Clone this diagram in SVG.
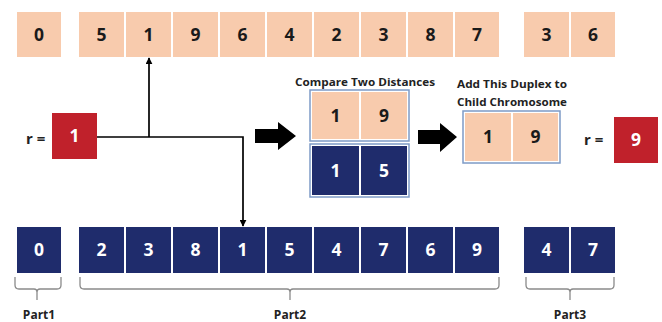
<svg xmlns="http://www.w3.org/2000/svg" width="662" height="322" viewBox="0 0 662 322">
  <defs>
    <style>
      .peach { fill: #F8CBAD; }
      .navy { fill: #1F2C6C; }
      .red { fill: #C0212B; }
      .num { font-family: "Open Sans", "Liberation Sans", sans-serif; font-weight: bold; font-size: 17.5px; text-anchor: middle; }
      .dark { fill: #1a1a1a; }
      .light { fill: #ffffff; }
      .lbl { font-family: "Open Sans", "Liberation Sans", sans-serif; font-weight: bold; font-size: 11px; fill: #222; }
      .part { font-family: "Open Sans", "Liberation Sans", sans-serif; font-weight: bold; font-size: 12px; fill: #222; text-anchor: middle; }
      .req { font-family: "Open Sans", "Liberation Sans", sans-serif; font-weight: bold; font-size: 15px; fill: #222; }
      .frame { fill: #ffffff; stroke: #7E9BC6; stroke-width: 1.5; }
      .wire { fill: none; stroke: #000; stroke-width: 1.7; }
      .brace { fill: none; stroke: #8a8a8a; stroke-width: 1.3; }
      .block { fill: #000; }
    </style>
    <marker id="tip" viewBox="0 0 10 10" refX="9" refY="5" markerWidth="7" markerHeight="7" orient="auto-start-reverse" markerUnits="userSpaceOnUse">
      <path d="M0,0 L10,5 L0,10 z" fill="#000"/>
    </marker>
  </defs>

  <!-- parent chromosome (top row) -->
  <g id="top-0"><rect class="peach" x="17" y="12" width="44" height="45"/><text class="num dark" x="39" y="41">0</text></g>
  <g id="top-5"><rect class="peach" x="79" y="12" width="45" height="45"/><text class="num dark" x="101.5" y="41">5</text></g>
  <g id="top-1"><rect class="peach" x="126" y="12" width="45" height="45"/><text class="num dark" x="148.5" y="41">1</text></g>
  <g id="top-9"><rect class="peach" x="173" y="12" width="45" height="45"/><text class="num dark" x="195.5" y="41">9</text></g>
  <g id="top-6"><rect class="peach" x="220" y="12" width="45" height="45"/><text class="num dark" x="242.5" y="41">6</text></g>
  <g id="top-4"><rect class="peach" x="267" y="12" width="45" height="45"/><text class="num dark" x="289.5" y="41">4</text></g>
  <g id="top-2"><rect class="peach" x="314" y="12" width="45" height="45"/><text class="num dark" x="336.5" y="41">2</text></g>
  <g id="top-3"><rect class="peach" x="361" y="12" width="45" height="45"/><text class="num dark" x="383.5" y="41">3</text></g>
  <g id="top-8"><rect class="peach" x="408" y="12" width="45" height="45"/><text class="num dark" x="430.5" y="41">8</text></g>
  <g id="top-7"><rect class="peach" x="455" y="12" width="44" height="45"/><text class="num dark" x="477" y="41">7</text></g>
  <g id="top-3b"><rect class="peach" x="524" y="12" width="45" height="45"/><text class="num dark" x="546.5" y="41">3</text></g>
  <g id="top-6b"><rect class="peach" x="571" y="12" width="44" height="45"/><text class="num dark" x="593" y="41">6</text></g>

  <!-- second parent (bottom row) -->
  <g id="bot-0"><rect class="navy" x="17" y="227" width="44" height="46"/><text class="num light" x="39" y="256">0</text></g>
  <g id="bot-2"><rect class="navy" x="79" y="227" width="45" height="46"/><text class="num light" x="101.5" y="256">2</text></g>
  <g id="bot-3"><rect class="navy" x="126" y="227" width="45" height="46"/><text class="num light" x="148.5" y="256">3</text></g>
  <g id="bot-8"><rect class="navy" x="173" y="227" width="45" height="46"/><text class="num light" x="195.5" y="256">8</text></g>
  <g id="bot-1"><rect class="navy" x="220" y="227" width="45" height="46"/><text class="num light" x="242.5" y="256">1</text></g>
  <g id="bot-5"><rect class="navy" x="267" y="227" width="45" height="46"/><text class="num light" x="289.5" y="256">5</text></g>
  <g id="bot-4"><rect class="navy" x="314" y="227" width="45" height="46"/><text class="num light" x="336.5" y="256">4</text></g>
  <g id="bot-7"><rect class="navy" x="361" y="227" width="45" height="46"/><text class="num light" x="383.5" y="256">7</text></g>
  <g id="bot-6"><rect class="navy" x="408" y="227" width="45" height="46"/><text class="num light" x="430.5" y="256">6</text></g>
  <g id="bot-9"><rect class="navy" x="455" y="227" width="44" height="46"/><text class="num light" x="477" y="256">9</text></g>
  <g id="bot-4b"><rect class="navy" x="524" y="227" width="45" height="46"/><text class="num light" x="546.5" y="256">4</text></g>
  <g id="bot-7b"><rect class="navy" x="571" y="227" width="44" height="46"/><text class="num light" x="593" y="256">7</text></g>

  <!-- part braces -->
  <g id="part1">
    <path class="brace" d="M15,277 V285 Q15,289 19,289 H34 Q37,289 37,292 V300 M37,292 Q37,289 40,289 H57 Q61,289 61,285 V277"/>
    <text class="part" x="39" y="319">Part1</text>
  </g>
  <g id="part2">
    <path class="brace" d="M80,277 V285 Q80,289 84,289 H287 Q290,289 290,292 V300 M290,292 Q290,289 293,289 H495 Q499,289 499,285 V277"/>
    <text class="part" x="290" y="319">Part2</text>
  </g>
  <g id="part3">
    <path class="brace" d="M526,277 V285 Q526,289 530,289 H567 Q570,289 570,292 V300 M570,292 Q570,289 573,289 H610 Q614,289 614,285 V277"/>
    <text class="part" x="570" y="319">Part3</text>
  </g>

  <!-- current gene r = 1 -->
  <g id="r-start">
    <text class="req" x="26" y="144">r =</text>
    <rect class="red" x="52" y="113" width="45" height="46"/>
    <text class="num light" x="74.5" y="142">1</text>
  </g>

  <!-- compared duplexes -->
  <g id="compare">
    <text class="lbl" x="295" y="86" textLength="140" lengthAdjust="spacingAndGlyphs">Compare Two Distances</text>
    <rect class="frame" x="310" y="90" width="99" height="51"/>
    <rect class="peach" x="312" y="92" width="47" height="47"/>
    <rect class="peach" x="361" y="92" width="46" height="47"/>
    <text class="num dark" x="335.5" y="122">1</text>
    <text class="num dark" x="384" y="122">9</text>
    <rect class="frame" x="310" y="144" width="99" height="53"/>
    <rect class="navy" x="312" y="146" width="47" height="49"/>
    <rect class="navy" x="361" y="146" width="46" height="49"/>
    <text class="num light" x="335.5" y="177">1</text>
    <text class="num light" x="384" y="177">5</text>
  </g>

  <!-- chosen duplex -->
  <g id="duplex">
    <text class="lbl" x="457" y="88" textLength="110" lengthAdjust="spacingAndGlyphs">Add This Duplex to</text>
    <text class="lbl" x="457" y="106" textLength="110" lengthAdjust="spacingAndGlyphs">Child Chromosome</text>
    <rect class="frame" x="463" y="111" width="97" height="52"/>
    <rect class="peach" x="465" y="113" width="46" height="48"/>
    <rect class="peach" x="513" y="113" width="45" height="48"/>
    <text class="num dark" x="488" y="143">1</text>
    <text class="num dark" x="535.5" y="143">9</text>
  </g>

  <!-- next gene r = 9 -->
  <g id="r-next">
    <text class="req" x="584" y="145">r =</text>
    <rect class="red" x="614" y="117" width="44" height="46"/>
    <text class="num light" x="636" y="146">9</text>
  </g>

  <!-- connectors -->
  <g id="connectors">
    <path class="wire" d="M97,137 H243 V226" marker-end="url(#tip)"/>
    <path class="wire" d="M149,137 V58" marker-end="url(#tip)"/>
    <polygon class="block" points="255,129 278,129 278,122 296,136 278,150 278,143 255,143"/>
    <polygon class="block" points="418,130 440,130 440,123 457,137 440,152 440,144 418,144"/>
  </g>
</svg>
